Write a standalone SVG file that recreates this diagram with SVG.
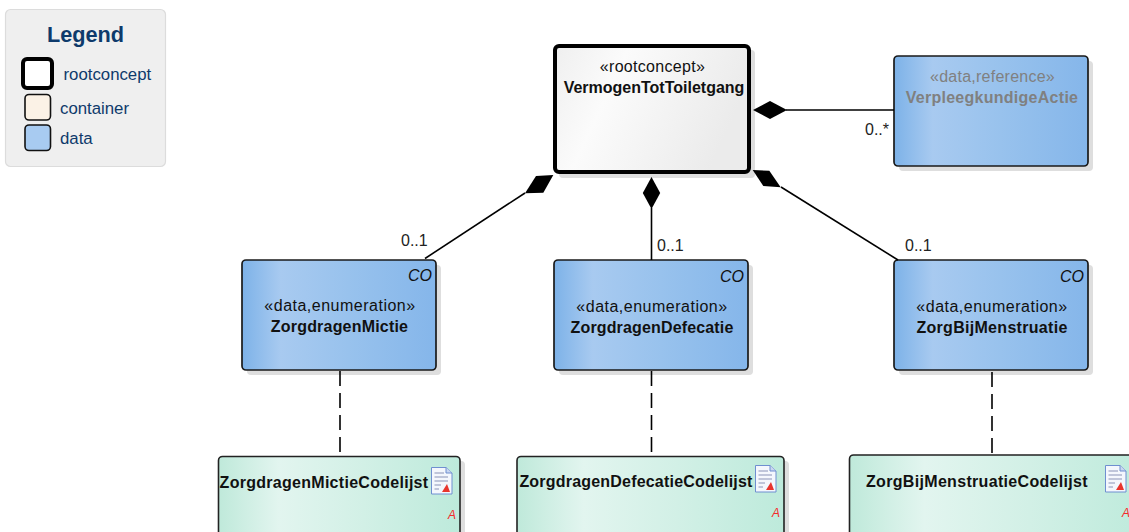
<svg xmlns="http://www.w3.org/2000/svg" width="1129" height="532" viewBox="0 0 1129 532">
<style>
text{font-family:"Liberation Sans",Arial,sans-serif;fill:#111}
.c{text-anchor:middle;font-size:16px}
.b{font-weight:bold;font-size:16px;text-anchor:middle}
.m{font-size:16px;fill:#222}
.co{font-style:italic;font-size:16px;text-anchor:end}
.a{font-style:italic;font-size:12px;fill:#f52a2a;text-anchor:end}
.e{letter-spacing:.5px}
.s{fill:#dedede}
.d{fill:url(#blue);stroke:#1a1a1a;stroke-width:1.7}
.g{fill:url(#green);stroke:#222;stroke-width:1.6}
.l{fill:#0e3a6b;font-size:16.800px}
.ln{fill:none;stroke:#000;stroke-width:1.6}
.dm{fill:#000}
.dash{fill:none;stroke:#000;stroke-width:1.6;stroke-dasharray:15 7}
</style>
<defs>
<linearGradient id="blue" x1="0" x2="1" y1="0" y2="0"><stop offset="0" stop-color="#7db2e8"/><stop offset="0.2" stop-color="#a8caf0"/><stop offset="0.55" stop-color="#98c2ed"/><stop offset="1" stop-color="#85b6ea"/></linearGradient>
<linearGradient id="green" x1="0" x2="1" y1="0" y2="0"><stop offset="0" stop-color="#bfe9da"/><stop offset="0.25" stop-color="#e2f5ef"/><stop offset="0.6" stop-color="#d2f0e6"/><stop offset="1" stop-color="#bdeadb"/></linearGradient>
<linearGradient id="root" x1="0" x2="1" y1="0" y2="0.3"><stop offset="0" stop-color="#efefef"/><stop offset="0.35" stop-color="#fbfbfb"/><stop offset="1" stop-color="#ebebeb"/></linearGradient>
<g id="doc">
<path d="M0.500 0.500H15L21 6V27H0.500Z" fill="#f4f7fd" stroke="#6f8fd0" stroke-width="1"/>
<path d="M15 0.500V6H21" fill="#c9d6f0" stroke="#6f8fd0" stroke-width="1"/>
<path d="M3.500 6H13M3.500 10H17M3.500 14H17M3.500 18H10M3.500 22H8" stroke="#8a94b8" stroke-width="1.200" fill="none"/>
<path d="M11 25L16 17L19 25Z" fill="#e8352d"/>
</g>
</defs>

<g id="legend">
<rect x="5.500" y="9.500" width="160" height="157" rx="5" fill="#efefef" stroke="#dcdcdc" stroke-width="1.200"/>
<text x="85.500" y="42" text-anchor="middle" font-weight="bold" font-size="21.700" style="fill:#0e3a6b">Legend</text>
<rect x="23" y="59" width="29" height="29" rx="4" fill="#fff" stroke="#000" stroke-width="4"/>
<text class="l" x="63.500" y="80">rootconcept</text>
<rect x="25" y="94.500" width="25.500" height="25.500" rx="4" fill="#fbf2e6" stroke="#111" stroke-width="1.600"/>
<text class="l" x="60" y="114">container</text>
<rect x="25" y="125" width="25.500" height="25.500" rx="4" fill="#a8cbf1" stroke="#111" stroke-width="1.600"/>
<text class="l" x="60" y="144">data</text>
</g>

<g id="rootconcept">
<rect class="s" x="559" y="50" width="196" height="128" rx="4"/>
<rect x="555" y="46" width="194" height="126" rx="4" fill="url(#root)" stroke="#000" stroke-width="4"/>
<text class="c" x="652.500" y="72" style="letter-spacing:.3px">«rootconcept»</text>
<text class="b" x="654" y="93">VermogenTotToiletgang</text>
</g>

<g id="verpleegkundigeactie">
<rect class="s" x="899" y="61" width="194" height="110" rx="4"/>
<rect class="d" x="894" y="56" width="194" height="110" rx="4"/>
<text class="c" x="992.500" y="82" style="fill:#808080;letter-spacing:.25px">«data,reference»</text>
<text class="b" x="992" y="103" style="fill:#808080;letter-spacing:.27px">VerpleegkundigeActie</text>
</g>

<g id="zorgdragenmictie">
<rect class="s" x="247" y="265" width="194" height="110" rx="4"/>
<rect class="d" x="242" y="260" width="194" height="110" rx="4"/>
<text class="co" x="432" y="281">CO</text>
<text class="c e" x="340" y="311">«data,enumeration»</text>
<text class="b" x="339.500" y="332" style="letter-spacing:.2px">ZorgdragenMictie</text>
</g>

<g id="zorgdragendefecatie">
<rect class="s" x="559" y="265" width="194" height="110" rx="4"/>
<rect class="d" x="554" y="260" width="194" height="110" rx="4"/>
<text class="co" x="744" y="282">CO</text>
<text class="c e" x="652" y="312">«data,enumeration»</text>
<text class="b" x="652" y="333" style="letter-spacing:.15px">ZorgdragenDefecatie</text>
</g>

<g id="zorgbijmenstruatie">
<rect class="s" x="899" y="265" width="194" height="110" rx="4"/>
<rect class="d" x="894" y="260" width="194" height="110" rx="4"/>
<text class="co" x="1084" y="282">CO</text>
<text class="c e" x="992" y="312">«data,enumeration»</text>
<text class="b" x="992" y="333" style="letter-spacing:.3px">ZorgBijMenstruatie</text>
</g>

<g id="zorgdragenmictiecodelijst">
<rect class="s" x="223" y="461" width="242" height="90" rx="4"/>
<rect class="g" x="218.500" y="456.500" width="241.500" height="90" rx="4"/>
<text class="b" x="324" y="488" style="letter-spacing:.28px">ZorgdragenMictieCodelijst</text>
<use href="#doc" x="431" y="467"/>
<text class="a" x="456" y="519">A</text>
</g>

<g id="zorgdragendefecatiecodelijst">
<rect class="s" x="522" y="461" width="267" height="90" rx="4"/>
<rect class="g" x="517" y="456.500" width="267" height="90" rx="4"/>
<text class="b" x="636" y="487" style="letter-spacing:.2px">ZorgdragenDefecatieCodelijst</text>
<use href="#doc" x="755" y="465"/>
<text class="a" x="780" y="517">A</text>
</g>

<g id="zorgbijmenstruatiecodelijst">
<rect class="g" x="849.500" y="455" width="300" height="90" rx="4"/>
<text class="b" x="977" y="487" style="letter-spacing:.32px">ZorgBijMenstruatieCodelijst</text>
<use href="#doc" x="1105" y="465"/>
<text class="a" x="1130" y="517">A</text>
</g>

<g id="connectors">
<path class="ln" d="M786 110H894"/>
<polygon class="dm" points="753,110 770,101 787,110 770,119"/>
<path class="ln" d="M651.500 208V260"/>
<polygon class="dm" points="651.500,177 660.200,193 651.500,209 642.800,193"/>
<path class="ln" d="M525 193L425 258.500"/>
<polygon class="dm" points="553.300,175 536,176 525,193.300 543.300,192.700"/>
<path class="ln" d="M781 187L898 260"/>
<polygon class="dm" points="752.700,170 769.300,170.700 780.700,187.300 763.300,186"/>
<path class="dash" d="M340 371V456"/>
<path class="dash" d="M651.500 371V456"/>
<path class="dash" d="M992 372V456"/>
<text class="m" x="865" y="135">0..*</text>
<text class="m" x="401" y="246">0..1</text>
<text class="m" x="657" y="251">0..1</text>
<text class="m" x="905" y="251">0..1</text>
</g>
</svg>
